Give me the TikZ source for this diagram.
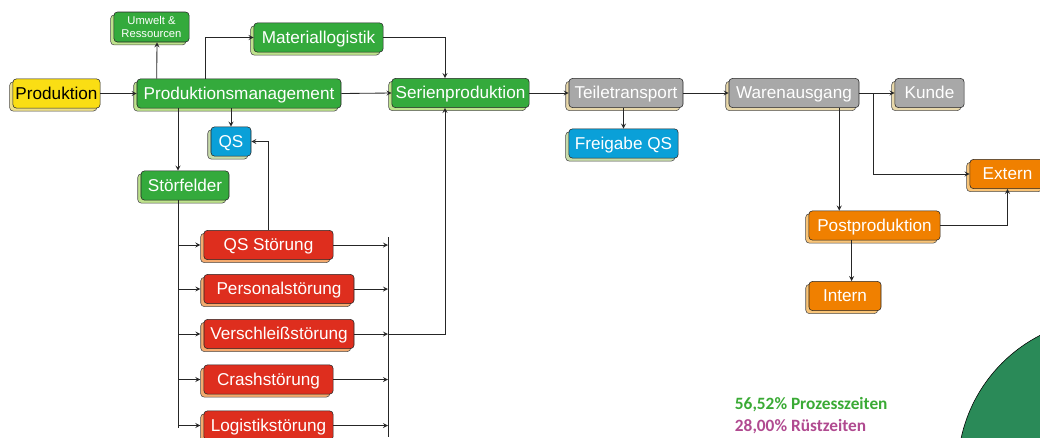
\documentclass[tikz,border=0pt]{standalone}
\usepackage{fontspec}
\setmainfont{Liberation Sans}
\newfontfamily\calib{Carlito}
\usetikzlibrary{calc}
\usetikzlibrary{shadows}
\definecolor{pyellow}{RGB}{250,222,20}
\definecolor{pyellowlt}{RGB}{236,222,140}
\definecolor{pgreen}{RGB}{52,170,60}
\definecolor{pgreenlt}{RGB}{190,226,140}
\definecolor{pblue}{RGB}{10,160,216}
\definecolor{pbluelt}{RGB}{200,220,170}
\definecolor{pgray}{RGB}{168,168,168}
\definecolor{pgraylt}{RGB}{232,216,170}
\definecolor{pred}{RGB}{222,46,30}
\definecolor{predlt}{RGB}{244,170,110}
\definecolor{porange}{RGB}{240,128,0}
\definecolor{porangelt}{RGB}{248,196,120}
\definecolor{piegreen}{RGB}{42,138,88}
\definecolor{txtgreen}{RGB}{58,170,53}
\definecolor{txtpurple}{RGB}{176,74,144}
\tikzset{
every picture/.style={>=stealth, x=0.025cm, y=-0.025cm},
%%%%%%%%%%  Node styles
box/.style={draw=black!85, thin, rounded corners=2.5pt, inner sep=0pt,
            minimum height=0.73cm, text=white,
            text height=8.4pt, text depth=0pt,
            font=\fontsize{12.2}{14}\selectfont,
            general shadow={shadow xshift=-2.3pt, shadow yshift=-2.1pt,
                            fill=#1, draw=black!70}},
yellow box/.style={box=pyellowlt, fill=pyellow, text=black},
green box/.style={box=pgreenlt, fill=pgreen},
blue box/.style={box=pbluelt, fill=pblue},
gray box/.style={box=pgraylt, fill=pgray},
red box/.style={box=predlt, fill=pred},
orange box/.style={box=porangelt, fill=porange},
%%%% connector style
link/.style={draw=black!85, line width=0.6pt},
share/.style={font=\calib\bfseries\fontsize{12.3}{14}\selectfont, anchor=west}
}

\begin{document}
\begin{tikzpicture}
\useasboundingbox (0,0) rectangle (1040,437);
%%%%%%% pie chart (cut off)
\fill[piegreen, draw=black, thin] (1109,470) circle [radius=3.78cm];
%%%%%%% upper row
\node[yellow box, minimum width=2.18cm] (prod) at (56.5,93.5) {Produktion};
\node[green box, minimum width=5.1cm] (prodman) at (239,93.5) {Produktionsmanagement};
\node[green box, minimum width=1.88cm, minimum height=0.75cm, align=center,
      text height=, text depth=,
      font=\fontsize{8}{9.5}\selectfont] (umw) at (151.5,27) {Umwelt \&\\Ressourcen};
\node[green box, minimum width=3.23cm] (mat) at (318.5,37.5) {Materiallogistik};
\node[blue box, minimum width=1.0cm] (qs) at (231,141.5) {QS};
\node[green box, minimum width=2.2cm] (stoer) at (185,185.5) {Störfelder};
\node[green box, minimum width=3.43cm] (serie) at (460.5,93) {Serienproduktion};
\node[gray box, minimum width=2.85cm] (teile) at (626,93) {Teiletransport};
\node[blue box, minimum width=2.73cm] (frei) at (623.5,143.5) {Freigabe QS};
\node[gray box, minimum width=3.25cm] (ware) at (794,93) {Warenausgang};
\node[gray box, minimum width=1.73cm] (kunde) at (929.5,93) {Kunde};
\node[orange box, minimum width=1.88cm] (ext) at (1007.5,174) {Extern};
\node[orange box, minimum width=3.28cm] (post) at (874.5,225.5) {Postproduktion};
\node[orange box, minimum width=1.8cm] (intern) at (845,296) {Intern};
%%%%%%% disturbances
\node[red box, minimum width=3.23cm] (qsst) at (268.5,245) {QS Störung};
\node[red box, minimum width=3.75cm] (pers) at (279,289) {Personalstörung};
\node[red box, minimum width=3.75cm] (versch) at (279,334) {Verschleißstörung};
\node[red box, minimum width=3.23cm] (crash) at (268.5,379.5) {Crashstörung};
\node[red box, minimum width=3.23cm] (logi) at (268.5,425.5) {Logistikstörung};
\coordinate (lbus) at (178,428);
\coordinate (rbus) at (388,437);
\coordinate (rtop) at (388,237);
\coordinate (jx) at (873,93);
\coordinate (wout) at ($(ware.south east)+(-20,0)$);
\coordinate (pout) at ($(post.south west)+(43,0)$);
%%%%%%% connectors
\draw[link,->] (prod.east) -- (prodman.west);
\draw[link,->] ($(prodman.north west)+(20,0)$) -- ($(umw.south)+(5.5,0)$);
\draw[link,->] ($(prodman.north west)+(69,0)$) |- (mat.west);
\draw[link,->] (prodman.south -| qs.north) -- (qs.north);
\draw[link,->] (lbus |- prodman.south) -- (lbus |- stoer.north);
\draw[link,->] (prodman.east) -- (serie.west);
\draw[link,->] (mat.east) -| ($(serie.north)+(-15.5,0)$);
\draw[link,->] (serie.east) -- (teile.west);
\draw[link,->] (teile.south -| frei.north) -- (frei.north);
\draw[link,->] (teile.east) -- (ware.west);
\draw[link,->] (ware.east) -- (kunde.west);
\draw[link,->] (jx) |- (ext.west);
\draw[link,->] (wout) -- (wout |- post.north);
\draw[link,->] (post.east) -| (ext.south);
\draw[link,->] (pout) -- (pout |- intern.north);
%% bus into the disturbances
\draw[link] (lbus |- stoer.south) -- (lbus);
\foreach \n in {qsst,pers,versch,crash,logi}
  \draw[link,->] (lbus |- \n.west) -- ([xshift=-2.3pt]\n.west);
%% bus out of the disturbances
\draw[link] (rtop) -- (rbus);
\foreach \n in {qsst,pers,versch,crash,logi}
  \draw[link,->] (\n.east) -- (\n.east -| rbus);
\draw[link,->] (rbus |- versch.east) -| ($(serie.south)+(-15.5,0)$);
\draw[link,->] (qsst.north) |- (qs.east);
%%%%%%% shares
\node[share, text=txtgreen] (proz) at (730,405) {56,52\% Prozesszeiten};
\node[share, text=txtpurple] (ruest) at (730,427) {28,00\% Rüstzeiten};
\end{tikzpicture}
\end{document}
